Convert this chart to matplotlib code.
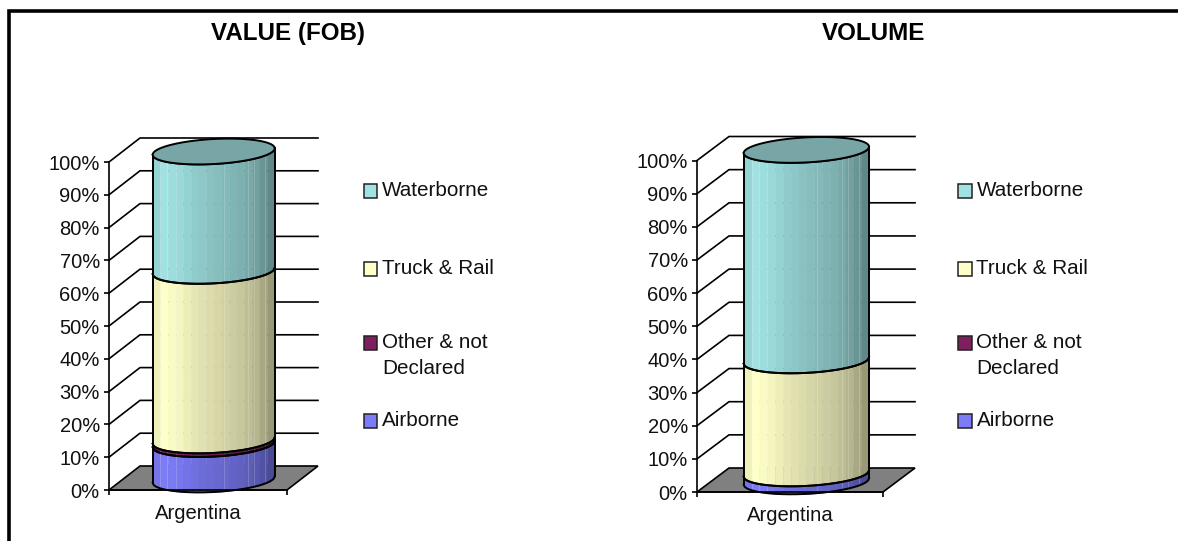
import numpy as np
import matplotlib
matplotlib.use("Agg")
import matplotlib.pyplot as plt
from matplotlib.patches import Polygon, Rectangle

W, H = 1178, 541
FONT = "Liberation Sans"

SERIES = ["Airborne", "Other & not\nDeclared", "Truck & Rail", "Waterborne"]
COLORS = ["#7C7CF8", "#7F1F5F", "#FFFFC8", "#A0E2E2"]
VALUE_FOB = [10.8, 1.1, 51.7, 36.4]
VOLUME = [2.4, 0.0, 34.1, 63.5]
CATEGORY = "Argentina"
TICKS = list(range(0, 101, 10))
TOP_COLOR = "#78A6A6"

# brightness of the vertical facets of the cylinder, left to right
SHADE = [0.94, 1.0, 0.98, 0.96, 0.93, 0.90, 0.88, 0.86, 0.84, 0.82, 0.80, 0.78, 0.75, 0.71, 0.66, 0.60]
SEAMS = [0.06, 0.12, 0.19, 0.58, 0.78, 0.83, 0.92]


def shaded(color, k):
    return tuple(c * k for c in matplotlib.colors.to_rgb(color))


def draw_chart(box, depth, cyl, values, title, title_x, legend_x):
    # box is left, right, y of 0%, y of 100% in pixels
    left, right, y0, y100 = box
    ax = fig.add_axes([left / W, 1 - y0 / H, (right - left) / W, (y0 - y100) / H])
    ax.set_xlim(0, right - left)
    ax.set_ylim(0, 100)
    ax.patch.set_visible(False)
    px = 100 / (y0 - y100)
    dx, dy = depth[0], depth[1] * px
    width = right - left

    # back wall lines
    for t in TICKS[1:]:
        ax.plot([0, dx, width + dx], [t, t + dy, t + dy], color="black", lw=1.2, clip_on=False, zorder=1)
    ax.add_patch(Polygon([(0, 0), (dx, dy), (width + dx, dy), (width, 0)], closed=True,
                         facecolor="#808080", edgecolor="black", lw=1.2, clip_on=False, zorder=1))

    # stacked cylinder
    cx = (cyl[0] + cyl[1]) / 2
    a = (cyl[1] - cyl[0]) / 2
    b = 12.5 * px
    tilt = 3.2 * px
    base = 3.2
    edges = np.cumsum([0] + values) + base
    u = np.linspace(-1, 1, 161)
    xs = cx + a * u
    front = -b * np.sqrt(1 - u ** 2) + tilt * u
    for i in range(len(values)):
        if values[i] == 0:
            continue
        for j, k in enumerate(SHADE):
            lo = -1 + 2 * j / len(SHADE)
            hi = -1 + 2 * (j + 1) / len(SHADE)
            m = (u >= lo - 1e-9) & (u <= hi + 1e-9)
            ax.fill_between(xs[m], edges[i] + front[m], edges[i + 1] + front[m],
                            color=shaded(COLORS[i], k), lw=0.3, clip_on=False, zorder=2)
        for s in SEAMS:
            n = int(round(s * (len(u) - 1)))
            ax.plot([xs[n], xs[n]], [edges[i] + front[n], edges[i + 1] + front[n]], color="white",
                    lw=0.5, alpha=0.25, clip_on=False, zorder=3)
        ax.plot(xs, edges[i] + front, color="black", lw=1.4, clip_on=False, zorder=4)
        ax.plot(xs, edges[i + 1] + front, color="black", lw=1.4, clip_on=False, zorder=4)
        ax.plot([xs[0], xs[0]], [edges[i] + front[0], edges[i + 1] + front[0]], color="black", lw=1.4,
                clip_on=False, zorder=4)
        ax.plot([xs[-1], xs[-1]], [edges[i] + front[-1], edges[i + 1] + front[-1]], color="black", lw=1.4,
                clip_on=False, zorder=4)

    # lid
    t = np.linspace(0, 2 * np.pi, 200)
    lid = np.column_stack([cx + a * np.cos(t), edges[-1] + b * np.sin(t) + tilt * np.cos(t)])
    ax.add_patch(Polygon(lid, closed=True, facecolor=TOP_COLOR, edgecolor="black", lw=1.4,
                         clip_on=False, zorder=5))

    # axes
    ax.spines["top"].set_visible(False)
    ax.spines["right"].set_visible(False)
    ax.spines["left"].set_zorder(6)
    ax.spines["bottom"].set_zorder(6)
    ax.spines["left"].set_linewidth(1.2)
    ax.spines["bottom"].set_linewidth(1.2)
    ax.set_yticks(TICKS)
    ax.set_yticklabels(["%d%%" % v for v in TICKS], fontsize=14.5, color="#111111")
    ax.tick_params(axis="y", length=3.6, width=1.2, pad=3)
    ax.set_xticks([width / 2])
    ax.set_xticklabels([CATEGORY], fontsize=14.6, color="#111111")
    ax.tick_params(axis="x", length=0, pad=10)
    ax.set_xticks([0, width], minor=True)
    ax.tick_params(axis="x", which="minor", length=3.6, width=1.2)

    fig.text(title_x / W, 1 - 40 / H, title, fontsize=17.4, fontweight="bold", ha="center", va="baseline")

    # legend, top item first
    rows = [420, 342, 268, 190]
    for i in range(len(SERIES)):
        y = rows[i]
        fig.add_artist(Rectangle((legend_x / W, 1 - (y + 7.5) / H), 13.5 / W, 13.5 / H, transform=fig.transFigure,
                                 facecolor=COLORS[i], edgecolor="#222222", lw=1.1))
        lines = SERIES[i].split("\n")
        for n in range(len(lines)):
            fig.text((legend_x + 18.5) / W, 1 - (y + 0.5 + n * 26) / H, lines[n], fontsize=14.9,
                     ha="left", va="center", color="#111111")


plt.rcParams["font.family"] = [FONT, "DejaVu Sans"]
fig = plt.figure(figsize=(W / 100, H / 100), dpi=100, facecolor="white")

draw_chart((109, 287, 490, 162), (31, 24), (43.7, 165.7), VALUE_FOB, "VALUE (FOB)", 288, 363.5)
draw_chart((697, 883, 492, 160.5), (32, 24), (46.7, 172), VOLUME, "VOLUME", 874, 958)

# frame, top and left only
fig.add_artist(plt.Line2D([9 / W, 9 / W, 1], [0, 1 - 11 / H, 1 - 11 / H], color="black", lw=2.6,
                          solid_joinstyle="miter"))

fig.savefig("out.png", dpi=100)
